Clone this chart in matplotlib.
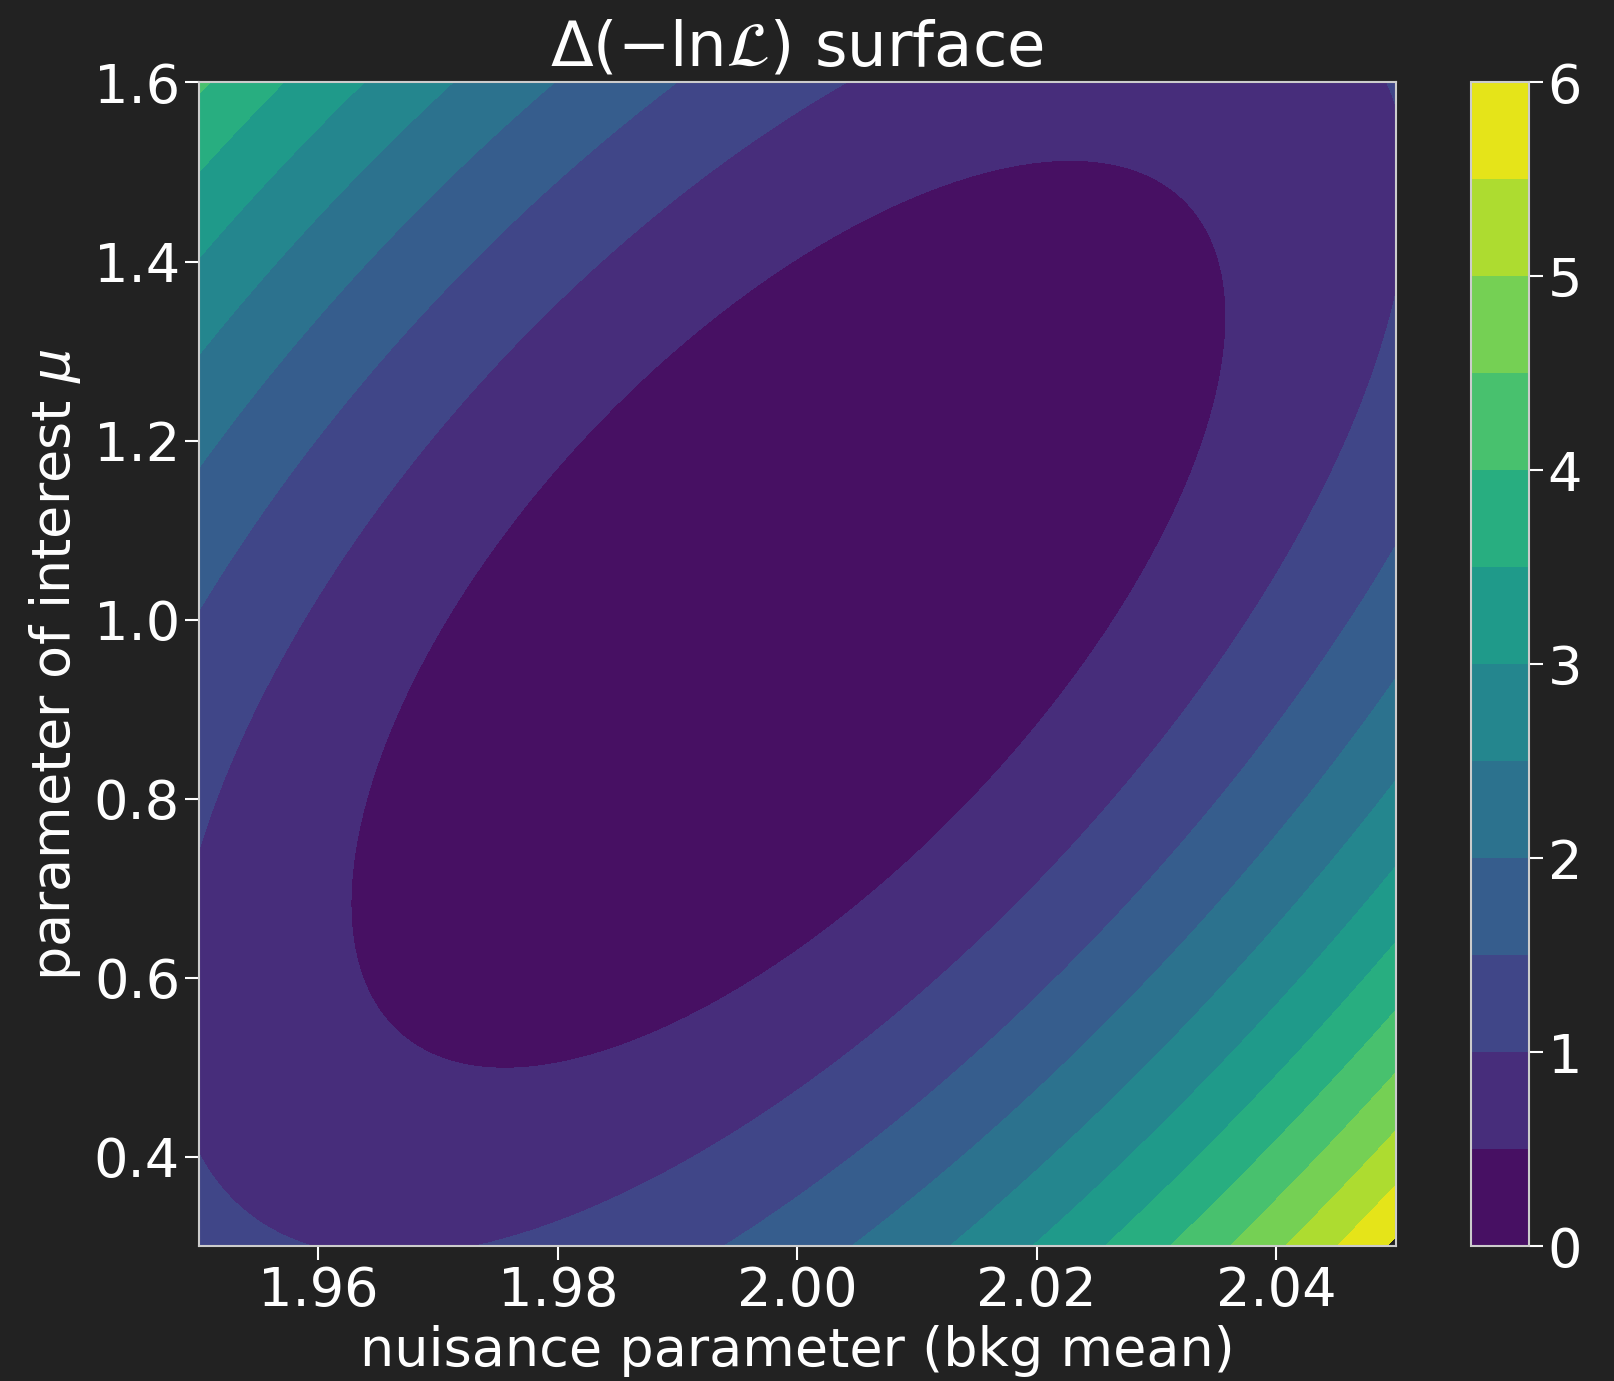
import numpy as np
import matplotlib
matplotlib.use("Agg")
import matplotlib.pyplot as plt

# fit result (best fit, errors, correlation)
bkg_hat = 1.9992
mu_hat = 1.006
bkg_err = 0.03655
mu_err = 0.507
rho = 0.647
# mild non-parabolic shape seen in the contours
skew = 0.025
k_off = 12.0

x_range = [1.95, 2.05]
y_range = [0.3, 1.6]
levels = np.arange(0, 6.5, 0.5)
cbar_ticks = [0, 1, 2, 3, 4, 5, 6]
x_ticks = [1.96, 1.98, 2.00, 2.02, 2.04]
y_ticks = [0.4, 0.6, 0.8, 1.0, 1.2, 1.4, 1.6]

bg = "#222222"
fg = "white"

xx = np.linspace(x_range[0], x_range[1], 600)
yy = np.linspace(y_range[0], y_range[1], 600)
X, Y = np.meshgrid(xx, yy)

u = (X - bkg_hat) / bkg_err
v = (Y - mu_hat) / mu_err
s = np.sqrt(1 - rho**2)
w = (u - rho * v) / s          # conditional direction
k = (mu_hat + k_off) / (Y + k_off)
dnll = 0.5 * v**2 + 0.5 * k * w**2 * (1 + skew * w)

fig = plt.figure(figsize=(16.15, 13.81), dpi=100, facecolor=bg)
ax = fig.add_axes([0.1231, 0.0975, 0.7411, 0.8428])
cax = fig.add_axes([0.9108, 0.0975, 0.0359, 0.8428])
ax.set_facecolor(bg)

cs = ax.contourf(X, Y, dnll, levels=levels, cmap="viridis")
cb = fig.colorbar(cs, cax=cax, ticks=cbar_ticks)

fs = 39
ax.set_xlim(x_range)
ax.set_ylim(y_range)
ax.set_xticks(x_ticks)
ax.set_yticks(y_ticks)
ax.set_xticklabels(["%.2f" % t for t in x_ticks])
ax.set_yticklabels(["%.1f" % t for t in y_ticks])
ax.tick_params(colors=fg, labelsize=fs, length=10, width=1.5)
for sp in ax.spines.values():
    sp.set_color("#cccccc")
    sp.set_linewidth(1.5)

ax.set_xlabel("nuisance parameter (bkg mean)", color=fg, fontsize=fs, labelpad=6)
ax.set_ylabel(r"parameter of interest $\mu$", color=fg, fontsize=fs, labelpad=8)
ax.set_title(r"$\Delta(-\mathrm{ln}\mathcal{L})$ surface", color=fg, fontsize=45, pad=12)

cb.ax.tick_params(colors=fg, labelsize=fs, length=10, width=1.5)
cb.outline.set_edgecolor("#cccccc")
cb.outline.set_linewidth(1.5)

fig.savefig("out.png", dpi=100, facecolor=bg)
